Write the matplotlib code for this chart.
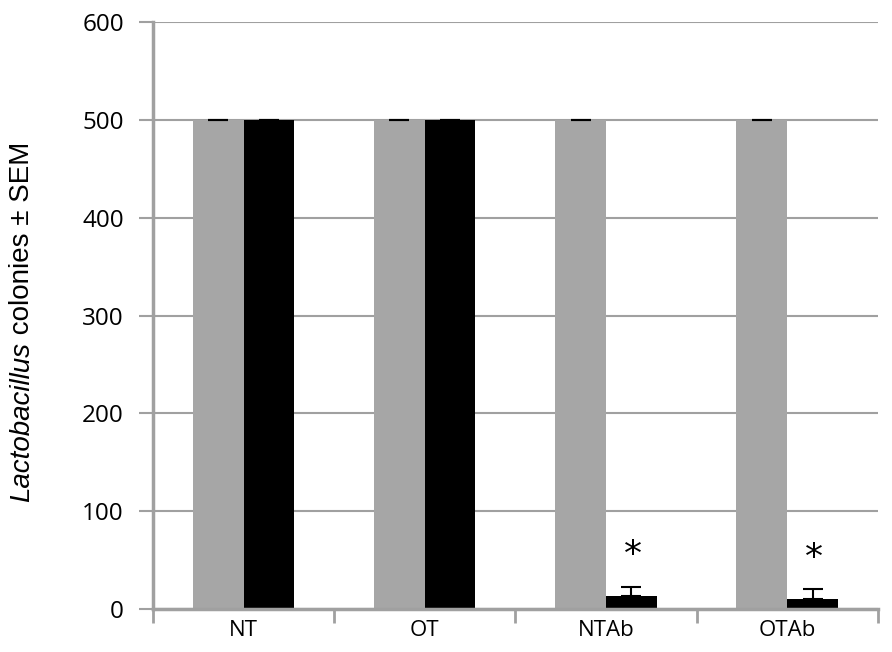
import matplotlib
matplotlib.use("Agg")
import matplotlib.pyplot as plt
import numpy as np
from matplotlib.offsetbox import TextArea, VPacker, AnchoredOffsetbox

categories = ["NT", "OT", "NTAb", "OTAb"]
gray_vals = [500, 500, 500, 500]
gray_err = [0, 0, 0, 0]
black_vals = [500, 500, 13, 10]
black_err = [0, 0, 9.5, 10]
sig_marks = ["", "", "*", "*"]
yticks = [0, 100, 200, 300, 400, 500, 600]

fig = plt.figure(figsize=(8.92, 6.52), dpi=100)
ax = fig.add_axes([0.1715, 0.066, 0.8125, 0.900])

x = np.arange(len(categories))
w = 0.28
axis_c = "#a0a0a0"

ax.bar(x - w / 2, gray_vals, w, color="#a6a6a6", zorder=3)
ax.bar(x + w / 2, black_vals, w, color="#000000", zorder=3)
ax.errorbar(x - w / 2, gray_vals, yerr=[np.zeros(4), gray_err], fmt="none",
            ecolor="black", elinewidth=1.5, capsize=7, capthick=1.5, zorder=4)
ax.errorbar(x + w / 2, black_vals, yerr=[np.zeros(4), black_err], fmt="none",
            ecolor="black", elinewidth=1.5, capsize=7, capthick=1.5, zorder=4)

for xi, v, e, m in zip(x, black_vals, black_err, sig_marks):
    if m:
        ax.text(xi + w / 2 + 0.01, v + e + 15, m, ha="center", va="bottom",
                fontsize=26, family="DejaVu Sans")

ax.set_xlim(-0.5, len(categories) - 0.5)
ax.set_ylim(0, 600)
ax.set_yticks(yticks)
ax.set_yticklabels([str(t) for t in yticks], fontsize=17.5, family="Open Sans")
ax.yaxis.grid(True, color=axis_c, linewidth=1.5, zorder=0)
ax.set_axisbelow(True)

ax.set_xticks(x)
ax.set_xticklabels(categories, fontsize=16, family="Open Sans")
ax.tick_params(axis="x", length=0, pad=8)
ax.set_xticks(np.arange(-0.5, len(categories)), minor=True)
ax.tick_params(axis="x", which="minor", length=10, width=2, color=axis_c)
ax.tick_params(axis="y", length=10, width=1.5, color=axis_c, pad=11)

for s in ["top", "right"]:
    ax.spines[s].set_visible(False)
for s in ["left", "bottom"]:
    ax.spines[s].set_color(axis_c)
    ax.spines[s].set_linewidth(2.5)
    ax.spines[s].set_zorder(5)

# y-axis label with italic genus name
t1 = TextArea("Lactobacillus", textprops=dict(fontsize=20, family="Liberation Sans",
                                              style="italic", rotation=90))
t2 = TextArea(" colonies ± SEM", textprops=dict(fontsize=20, family="Liberation Sans",
                                                 rotation=90))
box = VPacker(children=[t2, t1], align="center", pad=0, sep=0)
anch = AnchoredOffsetbox(loc="center", child=box, frameon=False,
                         bbox_to_anchor=(22 / 892, 1 - 322 / 652),
                         bbox_transform=fig.transFigure, borderpad=0)
fig.add_artist(anch)

fig.savefig("out.png", dpi=100)
